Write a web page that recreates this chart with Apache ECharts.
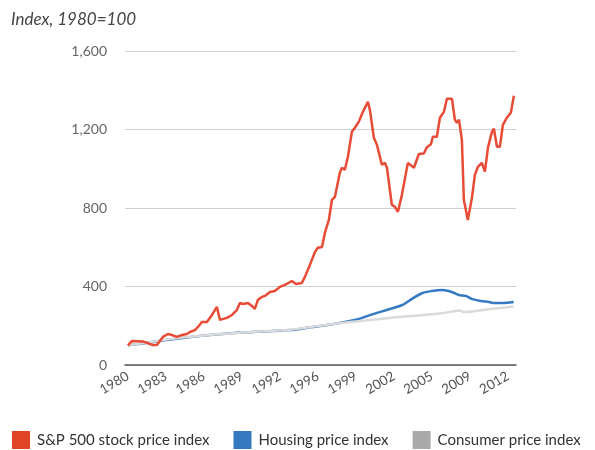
<!DOCTYPE html>
<html>
<head>
<meta charset="utf-8">
<script src="https://cdn.jsdelivr.net/npm/echarts@6/dist/echarts.min.js"></script>
<style>
  html, body { margin: 0; padding: 0; background: #fff; }
  #chart { width: 595px; height: 450px; }
</style>
</head>
<body>
<div id="chart"></div>
<script>
// S&P 500 stock price index (1980=100)
const spYears = [1980.00, 1980.34, 1981.28, 1981.88, 1982.14, 1982.48, 1982.99, 1983.42, 1983.76, 1984.19,
  1984.62, 1985.05, 1985.30, 1985.73, 1985.99, 1986.33, 1986.76, 1987.19, 1987.61, 1987.87,
  1988.47, 1988.90, 1989.32, 1989.58, 1989.84, 1990.27, 1990.61, 1990.86, 1991.12, 1991.46,
  1991.72, 1992.15, 1992.57, 1993.00, 1993.43, 1994.03, 1994.37, 1994.88, 1995.14, 1995.57,
  1996.00, 1996.25, 1996.60, 1996.85, 1997.19, 1997.45, 1997.71, 1997.88, 1998.13, 1998.31,
  1998.56, 1998.82, 1999.16, 1999.42, 1999.76, 2000.10, 2000.53, 2000.70, 2001.04, 2001.30,
  2001.73, 2001.98, 2002.16, 2002.58, 2002.84, 2003.10, 2003.44, 2003.95, 2004.47, 2004.89,
  2005.32, 2005.58, 2005.92, 2006.09, 2006.43, 2006.69, 2007.03, 2007.29, 2007.72, 2007.97,
  2008.14, 2008.32, 2008.57, 2008.74, 2009.08, 2009.43, 2009.68, 2009.94, 2010.28, 2010.54,
  2010.80, 2011.14, 2011.31, 2011.57, 2011.82, 2012.08, 2012.25, 2012.42, 2012.76, 2013.02]
const spValues = [100, 122, 120, 107, 102, 102, 143, 158, 153, 143,
  153, 158, 168, 178, 194, 219, 219, 255, 296, 230,
  240, 255, 280, 316, 311, 316, 301, 286, 332, 347,
  352, 372, 377, 398, 408, 428, 413, 418, 449, 510,
  576, 597, 601, 673, 739, 841, 857, 867, 979, 1005,
  995, 1061, 1188, 1209, 1240, 1290, 1341, 1300, 1158, 1122,
  1020, 1030, 1005, 816, 806, 781, 867, 1030, 1005, 1075,
  1078, 1110, 1125, 1163, 1163, 1260, 1290, 1357, 1357, 1250,
  1234, 1250, 1148, 841, 739, 852, 969, 1010, 1030, 985,
  1107, 1188, 1204, 1112, 1112, 1224, 1224, 1260, 1285, 1372]

// Housing price index
const housingYears = [1980.0, 1982.7, 1985.0, 1989.6, 1993.9, 1995.6, 1997.9, 1999.6, 2000.9, 2002.4,
  2003.5, 2004.3, 2005.2, 2006.0, 2006.9, 2007.7, 2008.3, 2008.9, 2009.4, 2010.2,
  2010.9, 2011.3, 2012.0, 2013.0]
const housingValues = [100, 122, 140, 165, 178, 192, 212, 232, 258, 285,
  306, 337, 367, 377, 382, 372, 357, 352, 337, 326,
  321, 316, 316, 321]

// Consumer price index
const cpiYears = [1980.0, 1985.0, 1989.6, 1993.9, 1997.9, 2002.4, 2006.7, 2008.4, 2008.7, 2011.0, 2013.0]
const cpiValues = [100, 142, 165, 180, 212, 240, 262, 278, 270, 285, 298]

const tickLabels = ['1980', '1983', '1986', '1989', '1992', '1996', '1999', '2002', '2005', '2009', '2012']
const tickStep = 3.25

const zip = (xs, ys) => xs.map((x, i) => [x, ys[i]])

const chart = echarts.init(document.getElementById('chart'))
const font = 'Lato, "Open Sans", sans-serif'

chart.setOption({
  animation: false,
  textStyle: { fontFamily: font },
  title: {
    text: 'Index, 1980=100',
    left: 6,
    top: 6,
    textStyle: { fontSize: 17, fontStyle: 'italic', fontWeight: 'normal', color: '#444', fontFamily: font }
  },
  grid: { left: 125, right: 79, top: 51, bottom: 85 },
  legend: {
    left: 12,
    bottom: 1,
    width: 590,
    padding: 0,
    itemWidth: 18,
    itemHeight: 18,
    itemGap: 24,
    icon: 'rect',
    textStyle: { fontSize: 15, color: '#333', fontFamily: font, padding: [0, 0, 0, 2] },
    data: ['S&P 500 stock price index', 'Housing price index', 'Consumer price index']
  },
  xAxis: {
    type: 'value',
    min: 1979.75,
    max: 2013.2,
    splitLine: { show: false },
    axisTick: { show: false },
    axisLine: { show: true, lineStyle: { color: '#555', width: 1.5 } },
    axisLabel: {
      customValues: tickLabels.map((t, i) => 1980 + i * tickStep),
      formatter: v => tickLabels[Math.round((v - 1980) / tickStep)],
      rotate: 30,
      margin: 10,
      fontSize: 13.5,
      color: '#555'
    }
  },
  yAxis: {
    type: 'value',
    min: 0,
    max: 1600,
    interval: 400,
    axisLine: { show: false },
    axisTick: { show: false },
    splitLine: { lineStyle: { color: '#d0d0d0', width: 1 } },
    axisLabel: {
      margin: 18,
      fontSize: 14,
      color: '#666',
      formatter: v => v.toLocaleString('en-US')
    }
  },
  series: [
    {
      name: 'Housing price index',
      type: 'line',
      data: zip(housingYears, housingValues),
      smooth: 0.3,
      showSymbol: false,
      lineStyle: { color: '#3479c2', width: 2.5 },
      itemStyle: { color: '#3479c2' }
    },
    {
      name: 'Consumer price index',
      type: 'line',
      data: zip(cpiYears, cpiValues),
      smooth: 0.3,
      showSymbol: false,
      lineStyle: { color: '#dadada', width: 2.5 },
      itemStyle: { color: '#a9a9a9' }
    },
    {
      name: 'S&P 500 stock price index',
      type: 'line',
      data: zip(spYears, spValues),
      showSymbol: false,
      lineStyle: { color: '#e84b36', width: 2.5 },
      itemStyle: { color: '#e04525' }
    }
  ]
})
</script>
</body>
</html>
